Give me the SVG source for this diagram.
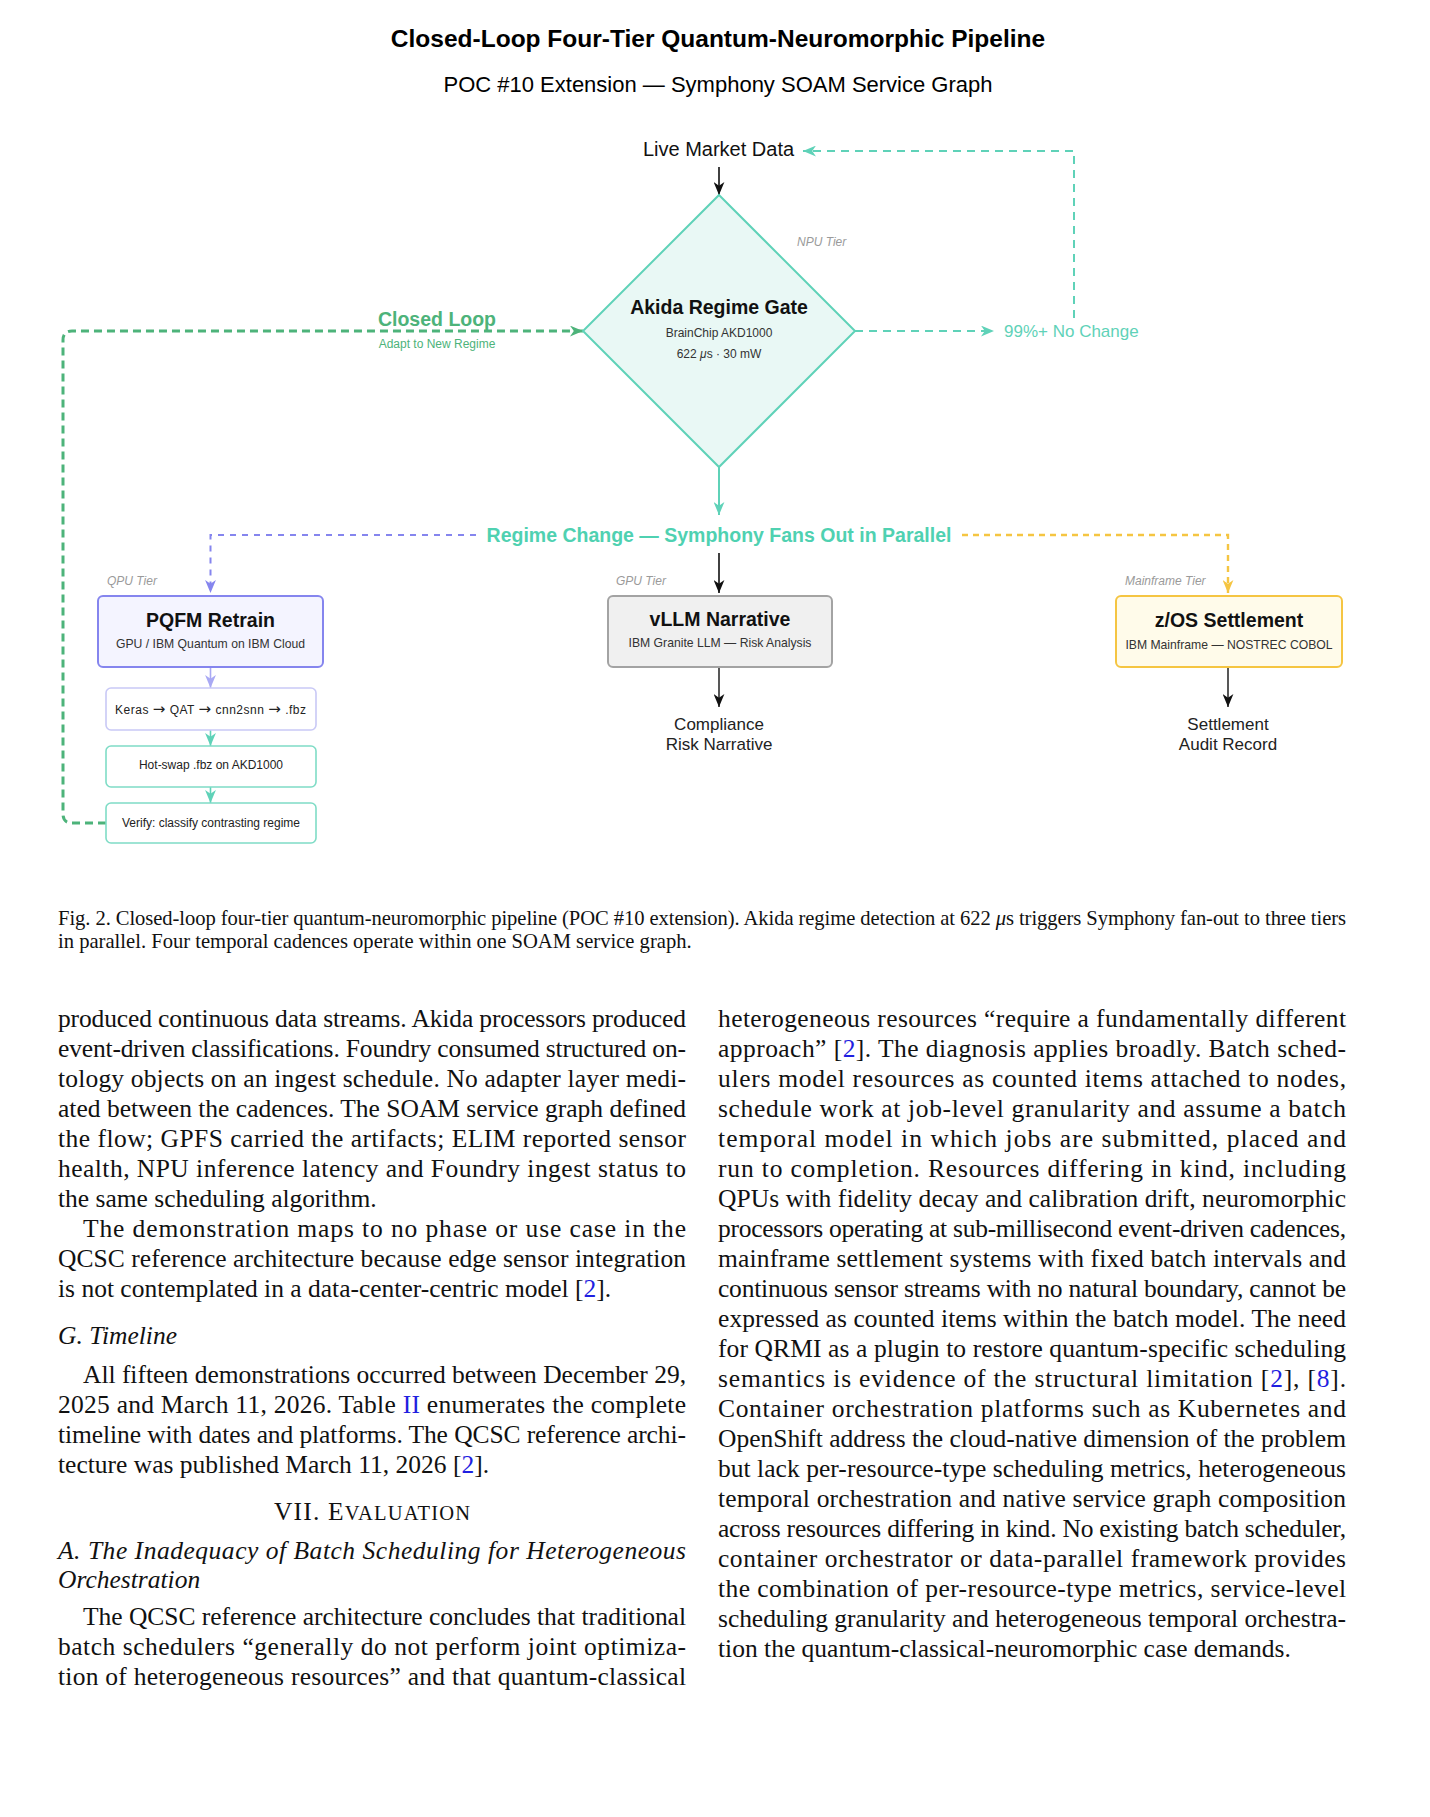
<svg xmlns="http://www.w3.org/2000/svg" width="1430" height="1817" viewBox="0 0 1430 1817">
<style>
.sans{font-family:"Liberation Sans",Arial,sans-serif}
.serif{font-family:"Liberation Serif","Times New Roman",serif}
.title{font-size:24.5px;font-weight:bold;fill:#000}
.subtitle{font-size:22px;fill:#000}
.lbl{font-size:19.5px;font-weight:bold}
.sub{font-size:12.2px;fill:#333}
.small{font-size:12px;fill:#222}
.tier{font-size:12px;font-style:italic;fill:#9a9a9a}
.out{font-size:17px;fill:#222}
.body{font-size:25.5px;fill:#111}
.cap{font-size:20.6px;fill:#111}
.ref{fill:#1f1fe0}
.it{font-style:italic}
.mid{text-anchor:middle}
.arr{font-family:"DejaVu Sans",sans-serif;font-size:15px}
.conn{fill:none}
</style>
<defs>
<marker id="aBlack" viewBox="0 0 12 10" refX="12" refY="5" markerWidth="13" markerHeight="11" markerUnits="userSpaceOnUse" orient="auto"><path d="M0,0 L12,5 L0,10 L3.5,5 Z" fill="#111"/></marker>
<marker id="aTeal" viewBox="0 0 12 10" refX="12" refY="5" markerWidth="13" markerHeight="11" markerUnits="userSpaceOnUse" orient="auto"><path d="M0,0 L12,5 L0,10 L3.5,5 Z" fill="#5fd2b8"/></marker>
<marker id="aGreen" viewBox="0 0 12 10" refX="12" refY="5" markerWidth="13" markerHeight="11" markerUnits="userSpaceOnUse" orient="auto"><path d="M0,0 L12,5 L0,10 L3.5,5 Z" fill="#4db37a"/></marker>
<marker id="aPurple" viewBox="0 0 12 10" refX="12" refY="5" markerWidth="13" markerHeight="11" markerUnits="userSpaceOnUse" orient="auto"><path d="M0,0 L12,5 L0,10 L3.5,5 Z" fill="#8585ee"/></marker>
<marker id="aLPurple" viewBox="0 0 12 10" refX="12" refY="5" markerWidth="13" markerHeight="11" markerUnits="userSpaceOnUse" orient="auto"><path d="M0,0 L12,5 L0,10 L3.5,5 Z" fill="#a9a9f4"/></marker>
<marker id="aYellow" viewBox="0 0 12 10" refX="12" refY="5" markerWidth="13" markerHeight="11" markerUnits="userSpaceOnUse" orient="auto"><path d="M0,0 L12,5 L0,10 L3.5,5 Z" fill="#f5c542"/></marker>
</defs>
<rect width="1430" height="1817" fill="#fff"/>

<g id="header" class="sans">
<text class="title mid" x="718" y="47">Closed-Loop Four-Tier Quantum-Neuromorphic Pipeline</text>
<text class="subtitle mid" x="718" y="92">POC #10 Extension — Symphony SOAM Service Graph</text>
</g>

<g id="connectors" class="conn">
<path d="M719,167 L719,195" stroke="#111" stroke-width="1.6" marker-end="url(#aBlack)"/>
<path d="M855,331 L994,331" stroke="#5fd2b8" stroke-width="2" stroke-dasharray="8,6" marker-end="url(#aTeal)"/>
<path d="M1074,318 L1074,151 L803,151" stroke="#5fd2b8" stroke-width="2" stroke-dasharray="8,6" marker-end="url(#aTeal)"/>
<path d="M106,823 L72,823 Q63,823 63,814 L63,340 Q63,331 72,331 L583,331" stroke="#4db37a" stroke-width="3" stroke-dasharray="8,5" marker-end="url(#aGreen)"/>
<path d="M719,467 L719,515" stroke="#5fd2b8" stroke-width="2" marker-end="url(#aTeal)"/>
<path d="M476,535 L210.5,535 L210.5,593" stroke="#8585ee" stroke-width="2" stroke-dasharray="6,6" marker-end="url(#aPurple)"/>
<path d="M962,535 L1228,535 L1228,593" stroke="#f5c542" stroke-width="2.4" stroke-dasharray="6,5" marker-end="url(#aYellow)"/>
<path d="M719,553 L719,593" stroke="#111" stroke-width="1.6" marker-end="url(#aBlack)"/>
<path d="M719,667 L719,707" stroke="#111" stroke-width="1.4" marker-end="url(#aBlack)"/>
<path d="M1228,667 L1228,707" stroke="#111" stroke-width="1.4" marker-end="url(#aBlack)"/>
<path d="M210.5,667 L210.5,688" stroke="#a9a9f4" stroke-width="1.6" marker-end="url(#aLPurple)"/>
<path d="M210.5,730 L210.5,746" stroke="#5fd2b8" stroke-width="1.6" marker-end="url(#aTeal)"/>
<path d="M210.5,787 L210.5,803" stroke="#5fd2b8" stroke-width="1.6" marker-end="url(#aTeal)"/>
</g>

<g id="live-market-data" class="sans">
<text class="mid" x="718.5" y="156" font-size="20" fill="#111">Live Market Data</text>
</g>

<g id="akida-gate" class="sans">
<path d="M719,195 L855,331 L719,467 L583,331 Z" fill="#e9f8f5" stroke="#5fd2b8" stroke-width="2"/>
<text class="tier" x="797" y="246">NPU Tier</text>
<text class="lbl mid" x="719" y="314" fill="#111">Akida Regime Gate</text>
<text class="mid" x="719" y="337" font-size="12" fill="#333">BrainChip AKD1000</text>
<text class="mid" x="719" y="358" font-size="12" fill="#333">622 <tspan class="it">μ</tspan>s · 30 mW</text>
</g>

<g id="closed-loop-label" class="sans">
<text class="lbl mid" x="437" y="326" fill="#4db37a">Closed Loop</text>
<text class="mid" x="437" y="348" font-size="12" fill="#4db37a">Adapt to New Regime</text>
</g>

<g id="no-change" class="sans">
<text x="1004" y="337" font-size="17" fill="#5fd2b8">99%+ No Change</text>
</g>

<g id="regime-change" class="sans">
<text class="lbl mid" x="719" y="542" fill="#4fd1b1">Regime Change — Symphony Fans Out in Parallel</text>
</g>

<g id="pqfm-retrain" class="sans">
<text class="tier" x="107" y="585">QPU Tier</text>
<rect x="98" y="596" width="225" height="71" rx="5" fill="#f4f4ff" stroke="#8585ee" stroke-width="2"/>
<text class="lbl mid" x="210.5" y="627" fill="#111">PQFM Retrain</text>
<text class="sub mid" x="210.5" y="648">GPU / IBM Quantum on IBM Cloud</text>
</g>

<g id="keras-convert" class="sans">
<rect x="106" y="688" width="210" height="42" rx="5" fill="#fff" stroke="#c9c9f6" stroke-width="1.6"/>
<text class="small" x="115" y="714" textLength="191" lengthAdjust="spacing">Keras <tspan class="arr">→</tspan> QAT <tspan class="arr">→</tspan> cnn2snn <tspan class="arr">→</tspan> .fbz</text>
</g>

<g id="hot-swap" class="sans">
<rect x="106" y="746" width="210" height="41" rx="5" fill="#fff" stroke="#7fdcc6" stroke-width="1.6"/>
<text class="small mid" x="211" y="769">Hot-swap .fbz on AKD1000</text>
</g>

<g id="verify" class="sans">
<rect x="106" y="803" width="210" height="40" rx="5" fill="#fff" stroke="#7fdcc6" stroke-width="1.6"/>
<text class="small mid" x="211" y="827">Verify: classify contrasting regime</text>
</g>

<g id="vllm-narrative" class="sans">
<text class="tier" x="616" y="585">GPU Tier</text>
<rect x="608" y="596" width="224" height="71" rx="5" fill="#f0f0f0" stroke="#a3a3a3" stroke-width="2"/>
<text class="lbl mid" x="720" y="626" fill="#111">vLLM Narrative</text>
<text class="sub mid" x="720" y="647">IBM Granite LLM — Risk Analysis</text>
</g>

<g id="compliance-output" class="sans">
<text class="out mid" x="719" y="730">Compliance</text>
<text class="out mid" x="719" y="750">Risk Narrative</text>
</g>

<g id="zos-settlement" class="sans">
<text class="tier" x="1125" y="585">Mainframe Tier</text>
<rect x="1116" y="596" width="226" height="71" rx="5" fill="#fffbea" stroke="#f5c542" stroke-width="2"/>
<text class="lbl mid" x="1229" y="627" fill="#111">z/OS Settlement</text>
<text class="sub mid" x="1229" y="649">IBM Mainframe — NOSTREC COBOL</text>
</g>

<g id="settlement-output" class="sans">
<text class="out mid" x="1228" y="730">Settlement</text>
<text class="out mid" x="1228" y="750">Audit Record</text>
</g>

<g id="caption" class="serif cap">
<text x="58" y="925" textLength="1288" lengthAdjust="spacing">Fig. 2.  Closed-loop four-tier quantum-neuromorphic pipeline (POC #10 extension). Akida regime detection at 622 <tspan class="it">μ</tspan>s triggers Symphony fan-out to three tiers</text>
<text x="58" y="947.5">in parallel. Four temporal cadences operate within one SOAM service graph.</text>
</g>

<g id="left-column" class="serif body">
<text x="58" y="1027" textLength="628" lengthAdjust="spacing">produced continuous data streams. Akida processors produced</text>
<text x="58" y="1057" textLength="628" lengthAdjust="spacing">event-driven classifications. Foundry consumed structured on-</text>
<text x="58" y="1087" textLength="628" lengthAdjust="spacing">tology objects on an ingest schedule. No adapter layer medi-</text>
<text x="58" y="1117" textLength="628" lengthAdjust="spacing">ated between the cadences. The SOAM service graph defined</text>
<text x="58" y="1147" textLength="628" lengthAdjust="spacing">the flow; GPFS carried the artifacts; ELIM reported sensor</text>
<text x="58" y="1177" textLength="628" lengthAdjust="spacing">health, NPU inference latency and Foundry ingest status to</text>
<text x="58" y="1207">the same scheduling algorithm.</text>
<text x="83" y="1237" textLength="603" lengthAdjust="spacing">The demonstration maps to no phase or use case in the</text>
<text x="58" y="1267" textLength="628" lengthAdjust="spacing">QCSC reference architecture because edge sensor integration</text>
<text x="58" y="1297">is not contemplated in a data-center-centric model [<tspan class="ref">2</tspan>].</text>
<text x="58" y="1344" class="it">G. Timeline</text>
<text x="83" y="1383" textLength="603" lengthAdjust="spacing">All fifteen demonstrations occurred between December 29,</text>
<text x="58" y="1413" textLength="628" lengthAdjust="spacing">2025 and March 11, 2026. Table <tspan class="ref">II</tspan> enumerates the complete</text>
<text x="58" y="1443" textLength="628" lengthAdjust="spacing">timeline with dates and platforms. The QCSC reference archi-</text>
<text x="58" y="1473">tecture was published March 11, 2026 [<tspan class="ref">2</tspan>].</text>
<text x="274" y="1520" textLength="196" lengthAdjust="spacing">VII. E<tspan font-size="20.5">VALUATION</tspan></text>
<text x="58" y="1559" class="it" textLength="628" lengthAdjust="spacing">A. The Inadequacy of Batch Scheduling for Heterogeneous</text>
<text x="58" y="1588" class="it">Orchestration</text>
<text x="83" y="1625" textLength="603" lengthAdjust="spacing">The QCSC reference architecture concludes that traditional</text>
<text x="58" y="1655" textLength="628" lengthAdjust="spacing">batch schedulers “generally do not perform joint optimiza-</text>
<text x="58" y="1685" textLength="628" lengthAdjust="spacing">tion of heterogeneous resources” and that quantum-classical</text>
</g>

<g id="right-column" class="serif body">
<text x="718" y="1027" textLength="628" lengthAdjust="spacing">heterogeneous resources “require a fundamentally different</text>
<text x="718" y="1057" textLength="628" lengthAdjust="spacing">approach” [<tspan class="ref">2</tspan>]. The diagnosis applies broadly. Batch sched-</text>
<text x="718" y="1087" textLength="628" lengthAdjust="spacing">ulers model resources as counted items attached to nodes,</text>
<text x="718" y="1117" textLength="628" lengthAdjust="spacing">schedule work at job-level granularity and assume a batch</text>
<text x="718" y="1147" textLength="628" lengthAdjust="spacing">temporal model in which jobs are submitted, placed and</text>
<text x="718" y="1177" textLength="628" lengthAdjust="spacing">run to completion. Resources differing in kind, including</text>
<text x="718" y="1207" textLength="628" lengthAdjust="spacing">QPUs with fidelity decay and calibration drift, neuromorphic</text>
<text x="718" y="1237" textLength="628" lengthAdjust="spacing">processors operating at sub-millisecond event-driven cadences,</text>
<text x="718" y="1267" textLength="628" lengthAdjust="spacing">mainframe settlement systems with fixed batch intervals and</text>
<text x="718" y="1297" textLength="628" lengthAdjust="spacing">continuous sensor streams with no natural boundary, cannot be</text>
<text x="718" y="1327" textLength="628" lengthAdjust="spacing">expressed as counted items within the batch model. The need</text>
<text x="718" y="1357" textLength="628" lengthAdjust="spacing">for QRMI as a plugin to restore quantum-specific scheduling</text>
<text x="718" y="1387" textLength="628" lengthAdjust="spacing">semantics is evidence of the structural limitation [<tspan class="ref">2</tspan>], [<tspan class="ref">8</tspan>].</text>
<text x="718" y="1417" textLength="628" lengthAdjust="spacing">Container orchestration platforms such as Kubernetes and</text>
<text x="718" y="1447" textLength="628" lengthAdjust="spacing">OpenShift address the cloud-native dimension of the problem</text>
<text x="718" y="1477" textLength="628" lengthAdjust="spacing">but lack per-resource-type scheduling metrics, heterogeneous</text>
<text x="718" y="1507" textLength="628" lengthAdjust="spacing">temporal orchestration and native service graph composition</text>
<text x="718" y="1537" textLength="628" lengthAdjust="spacing">across resources differing in kind. No existing batch scheduler,</text>
<text x="718" y="1567" textLength="628" lengthAdjust="spacing">container orchestrator or data-parallel framework provides</text>
<text x="718" y="1597" textLength="628" lengthAdjust="spacing">the combination of per-resource-type metrics, service-level</text>
<text x="718" y="1627" textLength="628" lengthAdjust="spacing">scheduling granularity and heterogeneous temporal orchestra-</text>
<text x="718" y="1657">tion the quantum-classical-neuromorphic case demands.</text>
</g>
</svg>
